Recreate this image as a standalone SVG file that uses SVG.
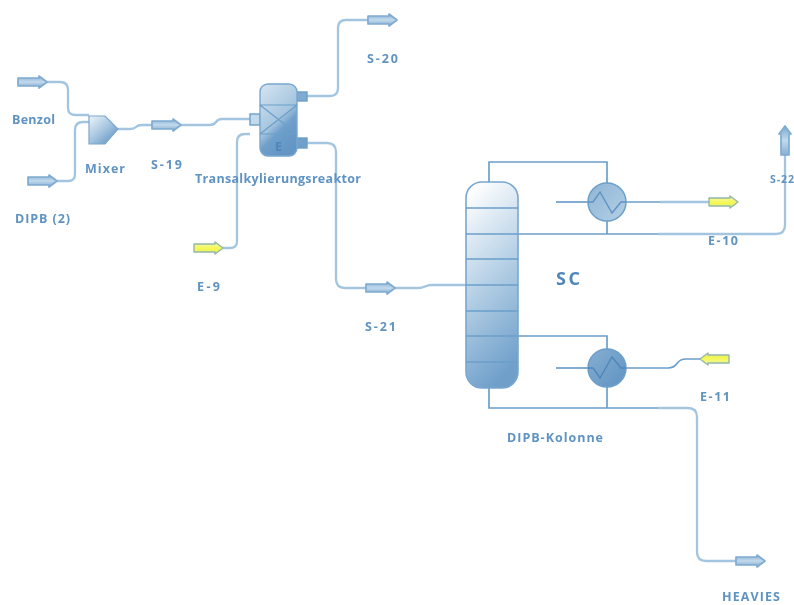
<svg xmlns="http://www.w3.org/2000/svg" width="794" height="605" viewBox="0 0 794 605">
<style>
.p{fill:none;stroke:#a3c5e0;stroke-width:2.3;stroke-linejoin:round}
.d{fill:none;stroke:#6b9fca;stroke-width:1.7}
.o{stroke:#6b9fca;stroke-width:1.4}
.t{font-family:"Open Sans","Liberation Sans",sans-serif;font-weight:700;font-size:12.5px;fill:#5f93c2}
.st{fill:url(#gs);stroke:#7fabd1;stroke-width:1.7;stroke-linejoin:round}
.ye{fill:url(#gy);stroke:#93b8a6;stroke-width:1.4;stroke-linejoin:round}
</style>
<defs>
<linearGradient id="gs" x1="0" y1="0" x2="0" y2="1"><stop offset="0" stop-color="#86aed2"/><stop offset=".5" stop-color="#c3daec"/><stop offset="1" stop-color="#7aa7cf"/></linearGradient>
<linearGradient id="gv" x1="0" y1="0" x2="1" y2="0"><stop offset="0" stop-color="#86aed2"/><stop offset=".5" stop-color="#c3daec"/><stop offset="1" stop-color="#7aa7cf"/></linearGradient>
<linearGradient id="gy" x1="0" y1="0" x2="0" y2="1"><stop offset="0" stop-color="#f4f7a8"/><stop offset=".6" stop-color="#f5f850"/><stop offset="1" stop-color="#e4e87a"/></linearGradient>
<linearGradient id="gc" x1="0.25" y1="0" x2="0.5" y2="1"><stop offset="0" stop-color="#ffffff"/><stop offset=".5" stop-color="#b4cfe5"/><stop offset="1" stop-color="#6f9fca"/></linearGradient>
<linearGradient id="gr" x1="0.1" y1="0" x2="0.6" y2="1"><stop offset="0" stop-color="#d3e3f1"/><stop offset=".55" stop-color="#a5c5df"/><stop offset=".7" stop-color="#6f9fca"/><stop offset="1" stop-color="#6396c4"/></linearGradient>
<linearGradient id="gm" x1="0.05" y1="0.05" x2="0.85" y2="0.95"><stop offset="0" stop-color="#e6f0f7"/><stop offset=".55" stop-color="#a2c2de"/><stop offset="1" stop-color="#6395c3"/></linearGradient>
<linearGradient id="gh1" x1="0" y1="0" x2="1" y2="1"><stop offset="0" stop-color="#8fb5d6"/><stop offset="1" stop-color="#b4cfe5"/></linearGradient>
<linearGradient id="gh2" x1="0" y1="0" x2="1" y2="1"><stop offset="0" stop-color="#86aed2"/><stop offset="1" stop-color="#5f93c2"/></linearGradient>
<path id="arrow" d="M0,-4H21V-6L29,0L21,6V4H0Z"/>
<filter id="soft" x="-5%" y="-5%" width="110%" height="110%"><feGaussianBlur stdDeviation="0.7"/></filter>
</defs>
<rect width="794" height="605" fill="#ffffff"/>
<g filter="url(#soft)">
<g id="connectors">
<path class="p" d="M47,82H60Q68,82 68,90V108Q68,115 76,115H89"/>
<path class="p" d="M57,181H68Q75,181 75,174V130Q75,122 83,122H89"/>
<path class="p" d="M118,129H130Q134,129 136,127Q138,125 142,125H152"/>
<path class="p" d="M181,125H210Q214,125 216,122Q218,119 222,119H250"/>
<path class="p" d="M222,248H230Q237,248 237,241V142Q237,134 245,134H250"/>
<path class="p" d="M307,96H330Q338,96 338,88V28Q338,20 346,20H368"/>
<path class="p" d="M307,143H327Q336,143 336,152V279Q336,288 345,288H366"/>
<path class="p" d="M395,288H418Q422,288 425,286.500Q428,285 432,285H466"/>
<path class="d" d="M489,182V162H607V183"/>
<path class="d" d="M607,221V234"/>
<path class="d" d="M518,234H658"/>
<path class="p" d="M658,234H776Q785,234 785,225V155"/>
<path class="d" d="M556,202H588"/>
<path class="d" d="M626,202H660"/>
<path class="p" d="M660,202H709"/>
<path class="d" d="M518,336H607V349"/>
<path class="d" d="M556,368H588"/>
<path class="d" d="M626,368H668Q674,368 677,363.500Q680,359 686,359H701"/>
<path class="d" d="M489,388V408H658"/>
<path class="d" d="M607,387V408"/>
<path class="p" d="M658,408H688Q697,408 697,417V552Q697,561 706,561H736"/>
</g>
<g id="Benzol"><use href="#arrow" class="st" transform="translate(18,82)"/><text class="t" x="12" y="124" textLength="43">Benzol</text></g>
<g id="DIPB2"><use href="#arrow" class="st" transform="translate(28,181)"/><text class="t" x="15" y="223" textLength="55">DIPB (2)</text></g>
<g id="Mixer"><path d="M89,116H105L118,129L105,144H89Z" fill="url(#gm)" stroke="#7aa7cf" stroke-width="1.2"/><text class="t" x="85" y="173" textLength="40">Mixer</text></g>
<g id="S-19"><use href="#arrow" class="st" transform="translate(152,125)"/><text class="t" x="151" y="169" textLength="31">S-19</text></g>
<g id="Reaktor">
<rect x="250" y="114" width="10" height="11" fill="#c3d9ec" class="o"/>
<rect x="297" y="92" width="10" height="9" fill="#7fabd1" class="o"/>
<rect x="297" y="138" width="10" height="10" fill="#6f9fca" class="o"/>
<rect x="260" y="84" width="37" height="72" rx="8" fill="url(#gr)" stroke="#7aa7cf" stroke-width="1.4"/>
<path d="M260,105H297M260,134H297M260,105L297,134M297,105L260,134" fill="none" stroke="#6b9fca" stroke-width="1.2"/>
<text class="t" x="275" y="151" style="fill:#4f86b8">E</text>
<text class="t" x="195" y="183" textLength="166">Transalkylierungsreaktor</text>
</g>
<g id="S-20"><use href="#arrow" class="st" transform="translate(368,20)"/><text class="t" x="367" y="63" textLength="31">S-20</text></g>
<g id="E-9"><use href="#arrow" class="ye" transform="translate(194,248)"/><text class="t" x="197" y="291" textLength="23">E-9</text></g>
<g id="S-21"><use href="#arrow" class="st" transform="translate(366,288)"/><text class="t" x="365" y="331" textLength="31">S-21</text></g>
<g id="Kolonne">
<rect x="466" y="182" width="52" height="206" rx="16" fill="url(#gc)" stroke="#7aa7cf" stroke-width="1.6"/>
<path d="M466,208H518M466,234H518M466,259H518M466,285H518M466,311H518M466,336H518M466,362H518" fill="none" stroke="#6b9fca" stroke-width="1.5"/>
<text x="556" y="285" style="font-family:'Open Sans','Liberation Sans',sans-serif;font-size:18px;font-weight:700;fill:#4f86b8" textLength="24">SC</text>
<text class="t" x="507" y="442" textLength="96">DIPB-Kolonne</text>
</g>
<g id="Kondensator"><circle cx="607" cy="202" r="19" fill="url(#gh1)" stroke="#6b9fca" stroke-width="1.5"/><path d="M588,202H593L600,192L612,213L621,202H626" fill="none" stroke="#5f93c2" stroke-width="1.4"/></g>
<g id="Verdampfer"><circle cx="607" cy="368" r="19" fill="url(#gh2)" stroke="#6b9fca" stroke-width="1.5"/><path d="M588,368H593L600,378L612,357L621,368H626" fill="none" stroke="#4f86b8" stroke-width="1.4"/></g>
<g id="E-10"><use href="#arrow" class="ye" transform="translate(709,202)"/><text class="t" x="708" y="245" textLength="30">E-10</text></g>
<g id="S-22"><use href="#arrow" class="st" style="fill:url(#gv)" transform="translate(785,155) rotate(-90)"/><text class="t" x="770" y="183" textLength="24" style="font-size:10.5px">S-22</text></g>
<g id="E-11"><use href="#arrow" class="ye" transform="translate(729,359) rotate(180)"/><text class="t" x="700" y="401" textLength="30">E-11</text></g>
<g id="HEAVIES"><use href="#arrow" class="st" transform="translate(736,561)"/><text class="t" x="722" y="601" textLength="58">HEAVIES</text></g>
</g>
</svg>
